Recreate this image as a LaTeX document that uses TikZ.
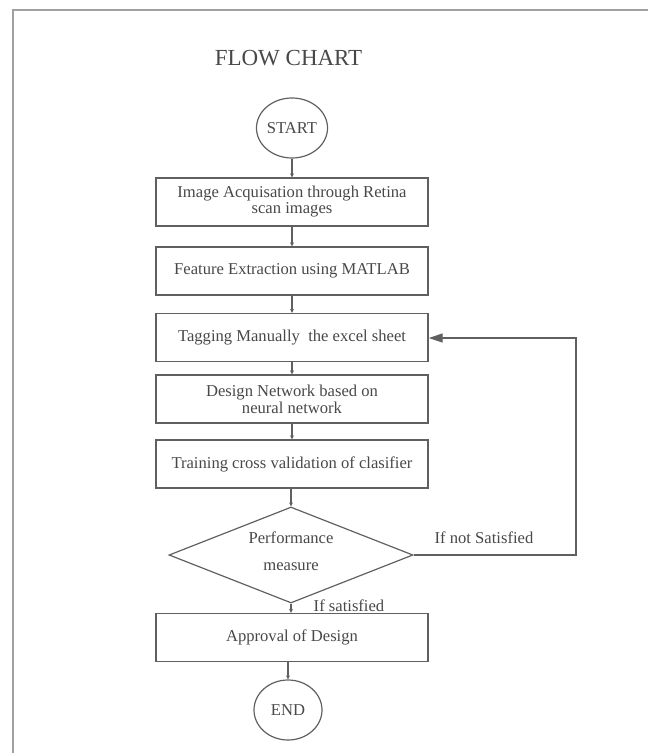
\documentclass[tikz,border=0pt]{standalone}
\usepackage{fontspec}
\setmainfont{Liberation Serif}
\usetikzlibrary{shapes.geometric,arrows.meta}
\definecolor{ln}{HTML}{606060}
\definecolor{tx}{HTML}{484848}
\definecolor{fr}{HTML}{A0A0A0}
\begin{document}
\begin{tikzpicture}[x=1pt,y=-1pt,
  every node/.style={text=tx,font=\fontsize{16.6}{17}\selectfont},
  procbox/.style={draw=ln,line width=1.4pt,minimum width=272pt,minimum height=48pt,inner sep=0pt,align=center},
  termnode/.style={draw=ln,line width=1.2pt,ellipse,minimum width=68pt,minimum height=60pt,inner sep=0pt},
  decnode/.style={draw=ln,line width=1.2pt,diamond,minimum width=244pt,minimum height=96pt,inner sep=0pt},
  flow/.style={draw=ln,line width=1.2pt,-{Stealth[length=4pt,width=4pt]}},
  loopline/.style={draw=ln,line width=1.2pt,-{Triangle[length=14pt,width=9pt]}},
  lbl/.style={inner sep=0pt,align=center}]
\useasboundingbox (0,0) rectangle (648,753);
\draw[fr,line width=2pt] (648,10) -- (13,10) -- (13,753);
\node[lbl,font=\fontsize{23}{24}\selectfont] (title) at (288.5,58) {FLOW CHART};
\node[termnode] (start) at (292,128) {START};
\node[procbox] (b1) at (292,202) {Image Acquisation through Retina\\[-1pt]scan images};
\node[procbox] (b2) at (292,271) {Feature Extraction using MATLAB};
\node[procbox] (b3) at (292,337.5) {Tagging Manually\ \ the excel sheet};
\node[procbox] (b4) at (292,399) {Design Network based on\\[0pt]neural network};
\node[procbox] (b5) at (292,464) {Training cross validation of clasifier};
\node[decnode] (d) at (291,555) {};
\node[lbl] (dtext) at (291,551) {Performance\\[10pt]measure};
\node[procbox] (b6) at (292,637.5) {Approval of Design};
\node[termnode] (end) at (288,710) {END};
\node[lbl] (ns) at (484,538) {If not Satisfied};
\node[lbl] (ys) at (349,606) {If satisfied};
\coordinate (c1) at (576,555);
\coordinate (c2) at (576,338);
\draw[flow] (start) -- (b1);
\draw[flow] (b1) -- (b2);
\draw[flow] (b2) -- (b3);
\draw[flow] (b3) -- (b4);
\draw[flow] (b4) -- (b5);
\draw[flow] (b5.south -| d.north) -- (d.north);
\draw[flow] (d.south) -- (b6.north -| d.south);
\draw[flow] (b6.south -| end.north) -- (end.north);
\draw[loopline] (d.east) -- (c1) -- (c2) -- (b3.east |- c2);
\end{tikzpicture}
\end{document}
